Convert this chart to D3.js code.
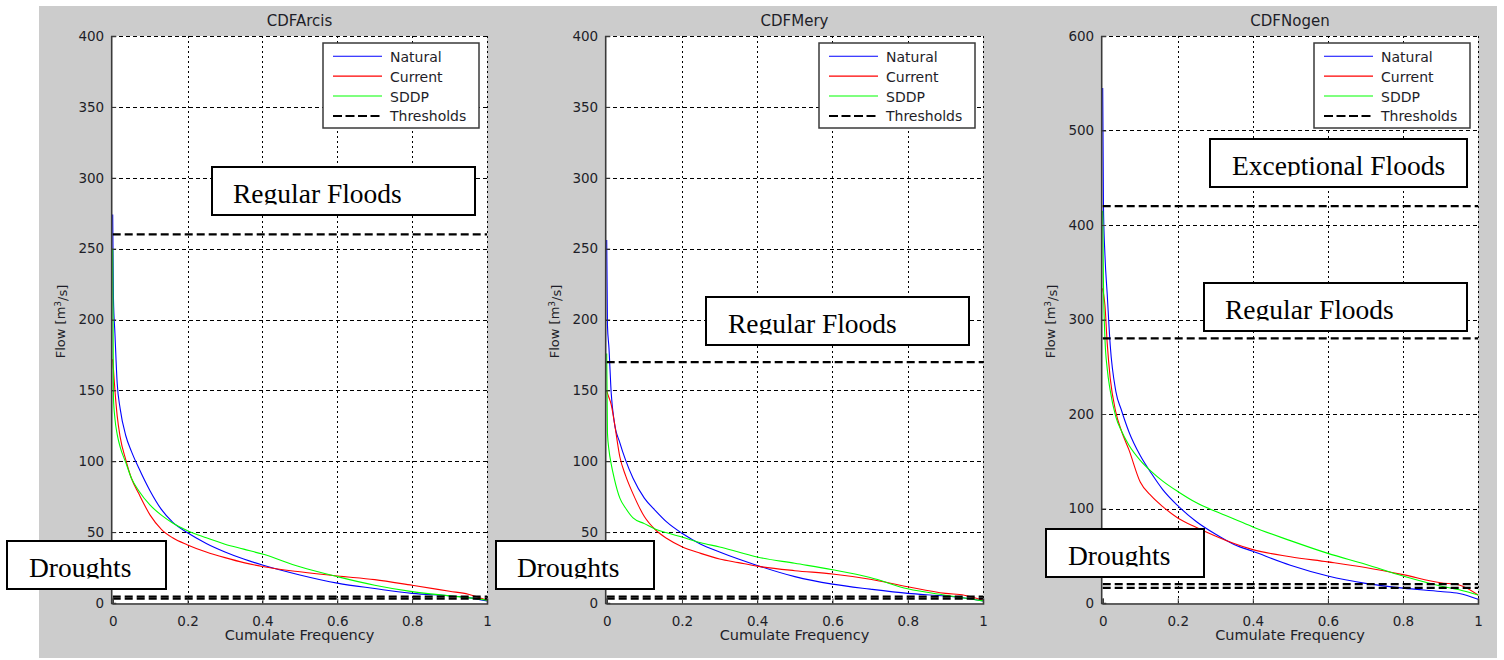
<!DOCTYPE html>
<html>
<head>
<meta charset="utf-8">
<script src="https://cdn.jsdelivr.net/npm/d3@7"></script>
<style>
  body { margin: 0; background: #ffffff; }
  svg { display: block; }
</style>
</head>
<body>
<svg id="fig" width="1504" height="660"></svg>
<script>
// Cumulative frequency grid shared by every flow-duration curve
const freq = [0, 0.002, 0.006, 0.012, 0.02, 0.035, 0.05, 0.07, 0.1, 0.13, 0.16, 0.2,
              0.25, 0.3, 0.35, 0.4, 0.5, 0.6, 0.7, 0.8, 0.9, 0.95, 1];

// Arcis flows [m3/s]
const arcisNatural = [274, 215, 190, 155, 137, 118, 107, 95, 79, 66, 57, 49.5,
                      42, 36, 31, 26.8, 19.8, 14, 10.2, 6.8, 5, 3.8, 1.5];
const arcisCurrent = [172, 165, 150, 132, 117, 101, 88, 77, 62, 52, 46, 41,
                      36, 32, 28.5, 25.8, 22, 19, 16.5, 12.5, 8.3, 6.2, 2];
const arcisSDDP    = [250, 145, 130, 119, 110, 99, 88, 79, 69, 62, 56.5, 51,
                      46, 41.5, 38, 34.5, 25.6, 18.6, 12.5, 8, 5, 3.8, 2];
const arcisThresholds = [3, 4.5, 260];

// Mery flows [m3/s]
const meryNatural = [256, 196, 180, 148, 128, 113, 101, 88, 74, 65, 57, 49.2,
                     41.5, 36, 31, 26.5, 18.6, 13.3, 9.8, 6.8, 4.9, 3.5, 1.5];
const meryCurrent = [150, 148, 145, 140, 128, 103, 90, 77, 61, 51.5, 45.5, 39.7,
                     35, 31, 28.5, 26, 22.8, 20.5, 16.8, 11.5, 6.8, 5.5, 2];
const merySDDP    = [176, 120, 108, 98, 88, 74, 67, 60, 56, 52, 49.5, 46.5,
                     42.5, 39.5, 36, 32.5, 28, 23.5, 18, 10, 5.5, 3.5, 1.5];
const meryThresholds = [3, 4.5, 170];

// Nogent flows [m3/s]
const nogenNatural = [545, 420, 368, 327, 273, 224, 204, 181, 156, 137, 120, 103,
                      86, 73, 62, 54.7, 40, 28.6, 20.8, 15.7, 12.1, 10, 4];
const nogenCurrent = [333, 328, 315, 275, 238, 202, 182, 162, 128, 113, 102, 90,
                      80, 71, 63, 56.5, 49, 43.5, 37.5, 30, 21.5, 19, 8.5];
const nogenSDDP    = [415, 340, 280, 248, 225, 197, 182, 167, 151, 139, 129, 118,
                      106, 97, 89, 80.5, 66, 52.5, 41, 28.5, 18, 14, 8.5];
const nogenThresholds = [16, 20, 280, 420];

// Axis ticks and labels
const xTicks = [0, 0.2, 0.4, 0.6, 0.8, 1];
const yTicks400 = [0, 50, 100, 150, 200, 250, 300, 350, 400];
const yTicks600 = [0, 100, 200, 300, 400, 500, 600];
const seriesNames = ["Natural", "Current", "SDDP", "Thresholds"];
const seriesColors = ["#0000ff", "#ff0000", "#00ff00", "#000000"];
const xLabel = "Cumulate Frequency";

// Text boxes placed on the figure
const noteLabels = ["Regular Floods", "Droughts", "Regular Floods", "Droughts",
                    "Exceptional Floods", "Regular Floods", "Droughts"];

// ---- layout ----
const axTop = 36, axBottom = 603;
const panels = [
  { title: "CDFArcis", left: 112, right: 487, yMax: 400, yTicks: yTicks400,
    series: [arcisNatural, arcisCurrent, arcisSDDP], thresholds: arcisThresholds },
  { title: "CDFMery", left: 606, right: 983, yMax: 400, yTicks: yTicks400,
    series: [meryNatural, meryCurrent, merySDDP], thresholds: meryThresholds },
  { title: "CDFNogen", left: 1102, right: 1478, yMax: 600, yTicks: yTicks600,
    series: [nogenNatural, nogenCurrent, nogenSDDP], thresholds: nogenThresholds }
];
const noteBoxes = [
  { x: 212, y: 167, w: 263, tx: 233 },
  { x: 7, y: 541, w: 159, tx: 29 },
  { x: 706, y: 297, w: 263, tx: 728 },
  { x: 496, y: 541, w: 158, tx: 517 },
  { x: 1210, y: 139, w: 257, tx: 1232 },
  { x: 1204, y: 283, w: 263, tx: 1225 },
  { x: 1046, y: 529, w: 158, tx: 1068 }
];

const sansFont = "'DejaVu Sans', sans-serif";
const serifFont = "'Liberation Serif', 'DejaVu Serif', serif";
const textColor = "#1e1e28";

const svg = d3.select("#fig");
const defs = svg.append("defs");

// figure background
svg.append("rect")
  .attr("x", 39).attr("y", 6).attr("width", 1458).attr("height", 652)
  .attr("fill", "#cccccc");

panels.forEach((p, pi) => {
  const x = d3.scaleLinear().domain([0, 1]).range([p.left + 0.7, p.right]);
  const y = d3.scaleLinear().domain([0, p.yMax]).range([axBottom, axTop]);
  const g = svg.append("g");

  const clipId = "clip" + pi;
  defs.append("clipPath").attr("id", clipId)
    .append("rect")
    .attr("x", p.left).attr("y", axTop)
    .attr("width", p.right - p.left + 1).attr("height", axBottom - axTop);

  // plot area
  g.append("rect")
    .attr("x", p.left).attr("y", axTop)
    .attr("width", p.right - p.left).attr("height", axBottom - axTop)
    .attr("fill", "#ffffff");

  // grid
  g.append("g").selectAll("line").data(p.yTicks.filter(v => v > 0)).join("line")
    .attr("x1", p.left).attr("x2", p.right)
    .attr("y1", d => Math.round(y(d)) + 0.5).attr("y2", d => Math.round(y(d)) + 0.5)
    .attr("stroke", "#000").attr("stroke-width", 1)
    .attr("stroke-dasharray", "4,3");
  g.append("g").selectAll("line").data(xTicks.filter(v => v > 0)).join("line")
    .attr("x1", d => Math.round(x(d)) + 0.5).attr("x2", d => Math.round(x(d)) + 0.5)
    .attr("y1", axTop).attr("y2", axBottom)
    .attr("stroke", "#000").attr("stroke-width", 1)
    .attr("stroke-dasharray", "2,3");

  // flow-duration curves
  const line = d3.line()
    .x((d, i) => x(freq[i]))
    .y(d => y(d))
    .curve(d3.curveMonotoneX);
  const curves = g.append("g").attr("clip-path", `url(#${clipId})`);
  p.series.forEach((vals, si) => {
    curves.append("path")
      .attr("d", line(vals))
      .attr("fill", "none")
      .attr("stroke", seriesColors[si])
      .attr("stroke-width", 1.1);
  });

  // thresholds
  curves.selectAll("line.th").data(p.thresholds).join("line")
    .attr("class", "th")
    .attr("x1", x(0)).attr("x2", x(1))
    .attr("y1", d => y(d)).attr("y2", d => y(d))
    .attr("stroke", "#000").attr("stroke-width", 2.2)
    .attr("stroke-dasharray", "8,4");

  // axes (box off: left and bottom only)
  const yAxis = d3.axisLeft(y).tickValues(p.yTicks).tickSize(-5).tickPadding(7)
    .tickFormat(d3.format("d"));
  const xAxis = d3.axisBottom(x).tickValues(xTicks).tickSize(-5).tickPadding(10)
    .tickFormat(d => d === 0 || d === 1 ? String(d) : d3.format(".1f")(d));

  const ya = g.append("g").attr("transform", `translate(${p.left - 0.8},0)`).call(yAxis);
  const xa = g.append("g").attr("transform", `translate(0,${axBottom + 0.5})`).call(xAxis);
  [ya, xa].forEach(a => {
    a.select(".domain").attr("stroke", "#3a3a3a").attr("stroke-width", 1.6);
    a.selectAll(".tick line").attr("stroke", "#3a3a3a").attr("stroke-width", 1);
    a.selectAll(".tick text")
      .attr("fill", textColor)
      .style("font-family", sansFont)
      .style("font-size", "13.5px");
  });
  xa.selectAll(".tick text").attr("dy", "0.9em");

  // title and axis labels
  g.append("text")
    .attr("x", (p.left + p.right) / 2).attr("y", 26)
    .attr("text-anchor", "middle")
    .attr("fill", textColor)
    .style("font-family", sansFont).style("font-size", "15px")
    .text(p.title);
  g.append("text")
    .attr("x", (p.left + p.right) / 2).attr("y", 639.5)
    .attr("text-anchor", "middle")
    .attr("fill", textColor)
    .style("font-family", sansFont).style("font-size", "14.5px")
    .text(xLabel);
  const yl = g.append("text")
    .attr("transform", `translate(${p.left - 47},${(axTop + axBottom) / 2 + 2}) rotate(-90)`)
    .attr("text-anchor", "middle")
    .attr("fill", textColor)
    .style("font-family", sansFont).style("font-size", "13px");
  yl.append("tspan").text("Flow [m");
  yl.append("tspan").attr("dy", "-0.45em").style("font-size", "9px").text("3");
  yl.append("tspan").attr("dy", "0.45em").text("/s]");

  // legend
  const lx = p.right - 164, ly = 43;
  const lg = g.append("g");
  lg.append("rect")
    .attr("x", lx).attr("y", ly).attr("width", 156).attr("height", 85)
    .attr("fill", "#ffffff").attr("stroke", "#3a3a3a").attr("stroke-width", 1.5);
  seriesNames.forEach((name, i) => {
    const base = 61.7 + i * 19.9;
    lg.append("line")
      .attr("x1", lx + 10).attr("x2", lx + 59)
      .attr("y1", base - 5.5).attr("y2", base - 5.5)
      .attr("stroke", seriesColors[i])
      .attr("stroke-width", i === 3 ? 2 : 1.1)
      .attr("stroke-dasharray", i === 3 ? "9,3.5" : null);
    lg.append("text")
      .attr("x", lx + 67).attr("y", base)
      .attr("fill", textColor)
      .style("font-family", sansFont).style("font-size", "14px")
      .text(name);
  });
});

// figure text boxes (glyphs clipped just below the baseline)
noteBoxes.forEach((b, i) => {
  const h = 48;
  const ng = svg.append("g");
  ng.append("rect")
    .attr("x", b.x).attr("y", b.y).attr("width", b.w).attr("height", h)
    .attr("fill", "#ffffff").attr("stroke", "#000").attr("stroke-width", 2);
  const cid = "noteclip" + i;
  defs.append("clipPath").attr("id", cid)
    .append("rect")
    .attr("x", b.x).attr("y", b.y).attr("width", b.w).attr("height", 37.5);
  ng.append("text")
    .attr("clip-path", `url(#${cid})`)
    .attr("x", b.tx).attr("y", b.y + 36)
    .attr("fill", "#000")
    .style("font-family", serifFont).style("font-size", "27.5px")
    .text(noteLabels[i]);
});
</script>
</body>
</html>
